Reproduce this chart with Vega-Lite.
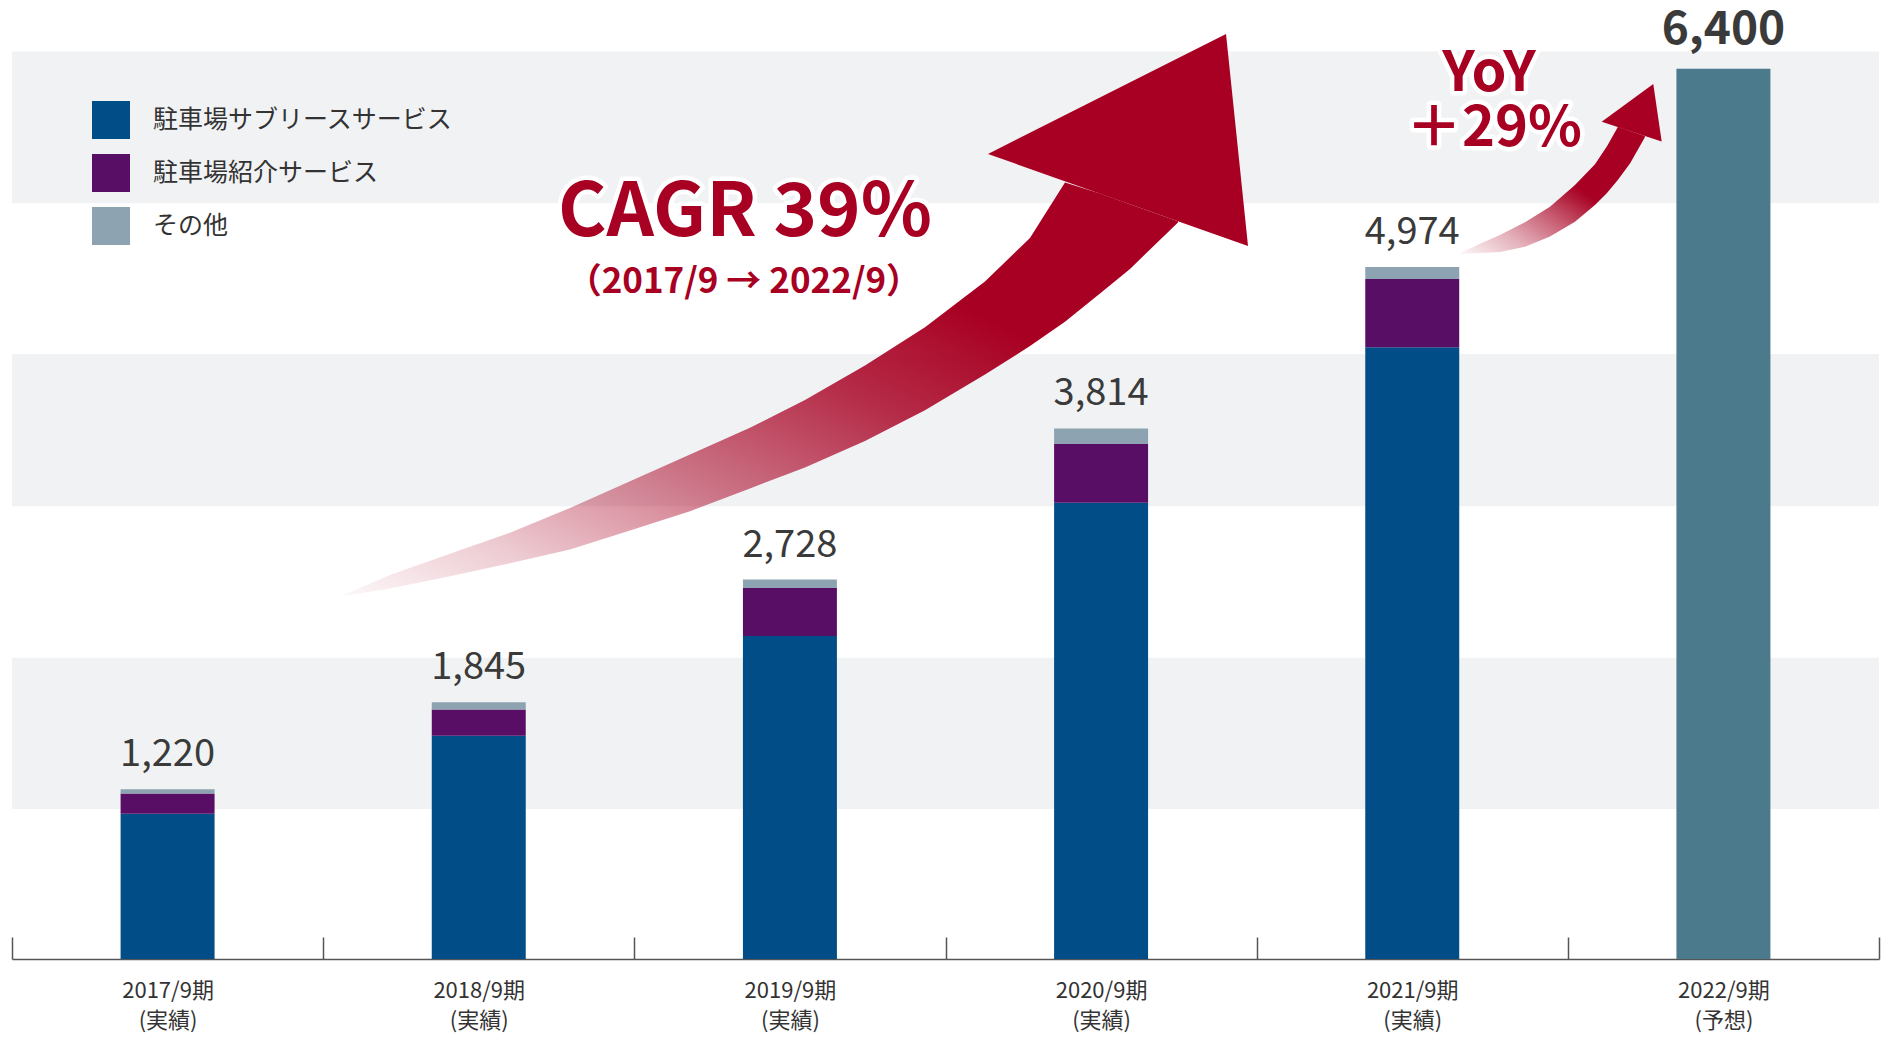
{
  "$schema": "https://vega.github.io/schema/vega-lite/v6.json",
  "width": 1867,
  "height": 959,
  "autosize": {"type": "none"},
  "padding": {"left": 12, "top": 0, "right": 2, "bottom": 79},
  "background": "white",
  "config": {
    "view": {"stroke": null},
    "font": "Noto Sans CJK JP",
    "text": {"font": "Noto Sans CJK JP"}
  },
  "datasets": {
    "bars": [
      {"year": "2017/9期", "series": "駐車場サブリースサービス", "ord": 1, "value": 1045},
      {"year": "2017/9期", "series": "駐車場紹介サービス", "ord": 2, "value": 145},
      {"year": "2017/9期", "series": "その他", "ord": 3, "value": 30},
      {"year": "2018/9期", "series": "駐車場サブリースサービス", "ord": 1, "value": 1605},
      {"year": "2018/9期", "series": "駐車場紹介サービス", "ord": 2, "value": 188},
      {"year": "2018/9期", "series": "その他", "ord": 3, "value": 52},
      {"year": "2019/9期", "series": "駐車場サブリースサービス", "ord": 1, "value": 2322},
      {"year": "2019/9期", "series": "駐車場紹介サービス", "ord": 2, "value": 345},
      {"year": "2019/9期", "series": "その他", "ord": 3, "value": 61},
      {"year": "2020/9期", "series": "駐車場サブリースサービス", "ord": 1, "value": 3280},
      {"year": "2020/9期", "series": "駐車場紹介サービス", "ord": 2, "value": 422},
      {"year": "2020/9期", "series": "その他", "ord": 3, "value": 112},
      {"year": "2021/9期", "series": "駐車場サブリースサービス", "ord": 1, "value": 4398},
      {"year": "2021/9期", "series": "駐車場紹介サービス", "ord": 2, "value": 490},
      {"year": "2021/9期", "series": "その他", "ord": 3, "value": 86},
      {"year": "2022/9期", "series": "予想", "ord": 1, "value": 6400}
    ],
    "totals": [
      {"year": "2017/9期", "total": 1220, "label": "1,220"},
      {"year": "2018/9期", "total": 1845, "label": "1,845"},
      {"year": "2019/9期", "total": 2728, "label": "2,728"},
      {"year": "2020/9期", "total": 3814, "label": "3,814"},
      {"year": "2021/9期", "total": 4974, "label": "4,974"}
    ],
    "forecast": [
      {"year": "2022/9期", "total": 6400, "label": "6,400"}
    ],
    "bands": [
      {"lo": 1078, "hi": 2166},
      {"lo": 3254, "hi": 4349},
      {"lo": 5433, "hi": 6523}
    ],
    "cagrShaft": [
      {"u": 1.0605, "top": 2612, "bot": 2608},
      {"u": 1.2148, "top": 2761, "bot": 2664},
      {"u": 1.4076, "top": 2914, "bot": 2751},
      {"u": 1.6004, "top": 3065, "bot": 2845},
      {"u": 1.7932, "top": 3242, "bot": 2943},
      {"u": 1.9861, "top": 3434, "bot": 3080},
      {"u": 2.1789, "top": 3626, "bot": 3219},
      {"u": 2.3717, "top": 3819, "bot": 3383},
      {"u": 2.5484, "top": 4019, "bot": 3533},
      {"u": 2.7413, "top": 4267, "bot": 3724},
      {"u": 2.9341, "top": 4541, "bot": 3945},
      {"u": 3.1269, "top": 4871, "bot": 4201},
      {"u": 3.2715, "top": 5183, "bot": 4406},
      {"u": 3.3840, "top": 5582, "bot": 4581},
      {"u": 3.4965, "top": 5503, "bot": 4784},
      {"u": 3.5929, "top": 5426, "bot": 4961},
      {"u": 3.7471, "top": 5304, "bot": 5295}
    ],
    "yoyShaft": [
      {"u": 4.6534, "top": 5073, "bot": 5068},
      {"u": 4.7177, "top": 5142, "bot": 5075},
      {"u": 4.7820, "top": 5205, "bot": 5083},
      {"u": 4.8623, "top": 5297, "bot": 5121},
      {"u": 4.9427, "top": 5408, "bot": 5193},
      {"u": 5.0230, "top": 5564, "bot": 5300},
      {"u": 5.0873, "top": 5714, "bot": 5421},
      {"u": 5.1258, "top": 5843, "bot": 5507},
      {"u": 5.1612, "top": 5983, "bot": 5602},
      {"u": 5.2003, "top": 5952, "bot": 5720},
      {"u": 5.2476, "top": 5916, "bot": 5907}
    ],
    "heads": [
      {"arrow": "CAGR", "u": 3.1366, "top": 5787, "bot": 5787},
      {"arrow": "CAGR", "u": 3.9015, "top": 6650, "bot": 5182},
      {"arrow": "CAGR", "u": 3.9722, "top": 5126, "bot": 5126},
      {"arrow": "YoY", "u": 5.1088, "top": 6019, "bot": 6019},
      {"arrow": "YoY", "u": 5.2746, "top": 6290, "bot": 5896},
      {"arrow": "YoY", "u": 5.3016, "top": 5876, "bot": 5876}
    ],
    "cagrText": [{"text": "CAGR 39%", "u": 2.3556, "v": 5198}],
    "subText": [{"text": "（2017/9 → 2022/9）", "u": 2.352, "v": 4790}],
    "yoyText": [
      {"text": "YoY", "u": 4.7466, "v": 6240},
      {"text": "＋29%", "u": 4.7627, "v": 5842}
    ]
  },
  "layer": [
    {
      "data": {"name": "bands"},
      "mark": {"type": "rect", "color": "#f1f2f4"},
      "encoding": {
        "y": {"field": "lo", "type": "quantitative", "scale": {"domain": [0, 6894], "nice": false}, "axis": null},
        "y2": {"field": "hi"}
      }
    },
    {
      "data": {"name": "bars"},
      "mark": {"type": "bar", "width": {"band": 0.302}},
      "encoding": {
        "x": {
          "field": "year", "type": "nominal", "sort": null,
          "scale": {"paddingInner": 0, "paddingOuter": 0},
          "axis": {
            "title": null, "labelAngle": 0, "orient": "bottom",
            "tickBand": "extent", "tickSize": -22, "tickColor": "#555555", "tickWidth": 1.5,
            "domainColor": "#555555", "domainWidth": 1.5,
            "labelFont": "Noto Sans CJK JP", "labelFontSize": 22, "labelColor": "#333333",
            "labelLineHeight": 30, "labelPadding": 43, "labelBaseline": "top",
            "labelExpr": "(datum.label || '') == '' ? '' : [datum.label, datum.label == '2022/9期' ? '(予想)' : '(実績)']"
          }
        },
        "y": {"field": "value", "type": "quantitative", "stack": "zero", "scale": {"domain": [0, 6894], "nice": false}, "axis": null},
        "color": {
          "field": "series", "type": "nominal",
          "scale": {
            "domain": ["駐車場サブリースサービス", "駐車場紹介サービス", "その他", "予想"],
            "range": ["#004d88", "#590e66", "#8ea3b1", "#4a7a8c"]
          },
          "legend": {
            "values": ["駐車場サブリースサービス", "駐車場紹介サービス", "その他"],
            "title": null, "orient": "none", "legendX": 80, "legendY": 101,
            "symbolType": "square", "symbolSize": 1444, "symbolStrokeWidth": 0, "symbolOpacity": 1,
            "labelFont": "Noto Sans CJK JP", "labelFontSize": 25, "labelColor": "#333333",
            "labelLimit": 0, "labelOffset": 23, "rowPadding": 15, "padding": 0
          }
        },
        "order": {"field": "ord", "type": "quantitative"}
      }
    },
    {
      "data": {"name": "totals"},
      "mark": {"type": "text", "fontSize": 38, "color": "#3a3a3a", "baseline": "alphabetic", "dy": -23},
      "encoding": {
        "x": {"field": "year", "type": "nominal", "sort": null, "scale": {"paddingInner": 0, "paddingOuter": 0, "domain": ["2017/9期", "2018/9期", "2019/9期", "2020/9期", "2021/9期", "2022/9期"]}, "axis": null},
        "y": {"field": "total", "type": "quantitative", "scale": {"domain": [0, 6894], "nice": false}, "axis": null},
        "text": {"field": "label"}
      }
    },
    {
      "data": {"name": "forecast"},
      "mark": {"type": "text", "fontSize": 46, "fontWeight": "bold", "color": "#3a3a3a", "baseline": "alphabetic", "dy": -25},
      "encoding": {
        "x": {"field": "year", "type": "nominal", "sort": null, "scale": {"paddingInner": 0, "paddingOuter": 0, "domain": ["2017/9期", "2018/9期", "2019/9期", "2020/9期", "2021/9期", "2022/9期"]}, "axis": null},
        "y": {"field": "total", "type": "quantitative", "scale": {"domain": [0, 6894], "nice": false}, "axis": null},
        "text": {"field": "label"}
      }
    },
    {
      "data": {"name": "cagrShaft"},
      "mark": {
        "type": "area",
        "color": {
          "gradient": "linear", "x1": 0, "y1": 1, "x2": 1, "y2": 0,
          "stops": [
            {"offset": 0, "color": "rgba(168,0,34,0.03)"},
            {"offset": 0.15, "color": "rgba(168,0,34,0.2)"},
            {"offset": 0.35, "color": "rgba(168,0,34,0.52)"},
            {"offset": 0.55, "color": "rgba(168,0,34,0.82)"},
            {"offset": 0.72, "color": "rgba(168,0,34,1)"},
            {"offset": 1, "color": "rgba(168,0,34,1)"}
          ]
        }
      },
      "encoding": {
        "x": {"field": "u", "type": "quantitative", "scale": {"domain": [0, 6], "nice": false, "zero": false}, "axis": null},
        "y": {"field": "top", "type": "quantitative", "scale": {"domain": [0, 6894], "nice": false}, "axis": null},
        "y2": {"field": "bot"}
      }
    },
    {
      "data": {"name": "yoyShaft"},
      "mark": {
        "type": "area",
        "color": {
          "gradient": "linear", "x1": 0, "y1": 1, "x2": 1, "y2": 0,
          "stops": [
            {"offset": 0, "color": "rgba(168,0,34,0.03)"},
            {"offset": 0.2, "color": "rgba(168,0,34,0.3)"},
            {"offset": 0.4, "color": "rgba(168,0,34,0.65)"},
            {"offset": 0.58, "color": "rgba(168,0,34,1)"},
            {"offset": 1, "color": "rgba(168,0,34,1)"}
          ]
        }
      },
      "encoding": {
        "x": {"field": "u", "type": "quantitative", "scale": {"domain": [0, 6], "nice": false, "zero": false}, "axis": null},
        "y": {"field": "top", "type": "quantitative", "scale": {"domain": [0, 6894], "nice": false}, "axis": null},
        "y2": {"field": "bot"}
      }
    },
    {
      "data": {"name": "heads"},
      "mark": {"type": "area", "color": "#a80022"},
      "encoding": {
        "x": {"field": "u", "type": "quantitative", "scale": {"domain": [0, 6], "nice": false, "zero": false}, "axis": null},
        "y": {"field": "top", "type": "quantitative", "scale": {"domain": [0, 6894], "nice": false}, "axis": null},
        "y2": {"field": "bot"},
        "detail": {"field": "arrow", "type": "nominal"}
      }
    },
    {
      "data": {"name": "cagrText"},
      "mark": {"type": "text", "fontSize": 74, "fontWeight": "bold", "align": "center", "baseline": "alphabetic", "fill": "white", "stroke": "white", "strokeWidth": 9, "strokeJoin": "round"},
      "encoding": {
        "x": {"field": "u", "type": "quantitative", "scale": {"domain": [0, 6], "nice": false, "zero": false}, "axis": null},
        "y": {"field": "v", "type": "quantitative", "scale": {"domain": [0, 6894], "nice": false}, "axis": null},
        "text": {"field": "text"}
      }
    },
    {
      "data": {"name": "cagrText"},
      "mark": {"type": "text", "fontSize": 74, "fontWeight": "bold", "align": "center", "baseline": "alphabetic", "color": "#a80022"},
      "encoding": {
        "x": {"field": "u", "type": "quantitative", "scale": {"domain": [0, 6], "nice": false, "zero": false}, "axis": null},
        "y": {"field": "v", "type": "quantitative", "scale": {"domain": [0, 6894], "nice": false}, "axis": null},
        "text": {"field": "text"}
      }
    },
    {
      "data": {"name": "subText"},
      "mark": {"type": "text", "fontSize": 35, "fontWeight": "bold", "align": "center", "baseline": "alphabetic", "color": "#a80022"},
      "encoding": {
        "x": {"field": "u", "type": "quantitative", "scale": {"domain": [0, 6], "nice": false, "zero": false}, "axis": null},
        "y": {"field": "v", "type": "quantitative", "scale": {"domain": [0, 6894], "nice": false}, "axis": null},
        "text": {"field": "text"}
      }
    },
    {
      "data": {"name": "yoyText"},
      "mark": {"type": "text", "fontSize": 56, "fontWeight": "bold", "align": "center", "baseline": "alphabetic", "fill": "white", "stroke": "white", "strokeWidth": 9, "strokeJoin": "round"},
      "encoding": {
        "x": {"field": "u", "type": "quantitative", "scale": {"domain": [0, 6], "nice": false, "zero": false}, "axis": null},
        "y": {"field": "v", "type": "quantitative", "scale": {"domain": [0, 6894], "nice": false}, "axis": null},
        "text": {"field": "text"}
      }
    },
    {
      "data": {"name": "yoyText"},
      "mark": {"type": "text", "fontSize": 56, "fontWeight": "bold", "align": "center", "baseline": "alphabetic", "color": "#a80022"},
      "encoding": {
        "x": {"field": "u", "type": "quantitative", "scale": {"domain": [0, 6], "nice": false, "zero": false}, "axis": null},
        "y": {"field": "v", "type": "quantitative", "scale": {"domain": [0, 6894], "nice": false}, "axis": null},
        "text": {"field": "text"}
      }
    }
  ],
  "resolve": {"scale": {"x": "independent"}}
}
